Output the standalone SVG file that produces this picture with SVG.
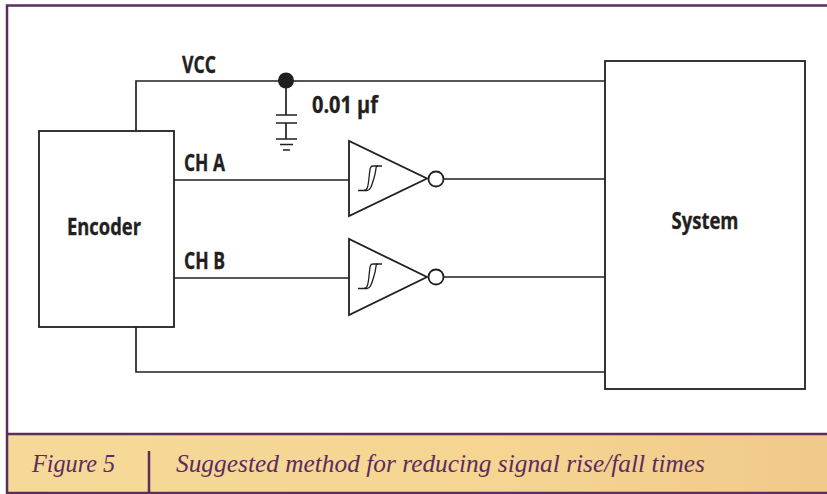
<svg xmlns="http://www.w3.org/2000/svg" width="827" height="494" viewBox="0 0 827 494">
<style>
.w{fill:none;stroke:#231f20;stroke-width:1.7}
.b{fill:#fff;stroke:#231f20;stroke-width:1.8}
.s{fill:none;stroke:#231f20;stroke-width:1.3}
.t{font-family:"Open Sans","Noto Sans",sans-serif;font-weight:700;font-size:23px;fill:#231f20;stroke:#231f20;stroke-width:.35}
.c{font-family:"Liberation Serif",serif;font-style:italic;font-size:26px;fill:#5b2c5e}
.f{fill:none;stroke:#5b2c5e;stroke-width:2.5}
</style>
<defs>
<linearGradient id="g" x1="0" x2="1" y1="0" y2="0"><stop offset="0" stop-color="#f6d999"/><stop offset="0.6" stop-color="#f5d591"/><stop offset="1" stop-color="#f1c98a"/></linearGradient>
<g id="st"><path class="s" d="M-10 12.500H-4C-1 12.500 0 10 1 0S2-12 5-12H14"/><path class="s" d="M-4 12.500H-1C2 12.500 3 10 6 0S7-12 10-12"/></g>
</defs>
<rect width="827" height="494" fill="#fff"/>
<g id="frame">
<rect x="8" y="434" width="819" height="59" fill="url(#g)"/>
<path class="f" d="M7 494V5.500H827"/>
<path class="f" d="M7 434H827M7 493H827M149 451V493"/>
<text class="c" x="32" y="472" textLength="83" lengthAdjust="spacingAndGlyphs">Figure 5</text>
<text class="c" x="176" y="472" textLength="529" lengthAdjust="spacingAndGlyphs">Suggested method for reducing signal rise/fall times</text>
</g>
<g id="connectors">
<path class="w" d="M136 131V81H605M136 327V372H605M174 180H349M174 278H349M444 179H605M444 277H605M286 81V115M276 115H297M276 123H297M286 123V139M276 139H297M280 144.500H293M283 150H290"/>
</g>
<g id="cap-dot"><circle cx="286" cy="80.500" r="8" fill="#231f20"/></g>
<g id="encoder"><rect class="b" x="39" y="131" width="135" height="196"/><text class="t" x="104" y="235" text-anchor="middle" textLength="74" lengthAdjust="spacingAndGlyphs">Encoder</text></g>
<g id="system"><rect class="b" x="605" y="61" width="200" height="328"/><text class="t" x="705" y="229" text-anchor="middle" textLength="67" lengthAdjust="spacingAndGlyphs">System</text></g>
<g id="gate-a"><path class="b" d="M349 141V216L427 178.500Z"/><circle class="b" cx="436" cy="179" r="7.500"/><use href="#st" x="368" y="178"/></g>
<g id="gate-b"><path class="b" d="M349 239V315L427 277Z"/><circle class="b" cx="436" cy="277" r="7.500"/><use href="#st" x="368" y="276"/></g>
<g id="labels">
<text class="t" x="182" y="73" textLength="34" lengthAdjust="spacingAndGlyphs">VCC</text>
<text class="t" x="312" y="113" textLength="66" lengthAdjust="spacingAndGlyphs">0.01 µf</text>
<text class="t" x="184" y="171" textLength="41" lengthAdjust="spacingAndGlyphs">CH A</text>
<text class="t" x="184" y="269" textLength="41" lengthAdjust="spacingAndGlyphs">CH B</text>
</g>
</svg>
